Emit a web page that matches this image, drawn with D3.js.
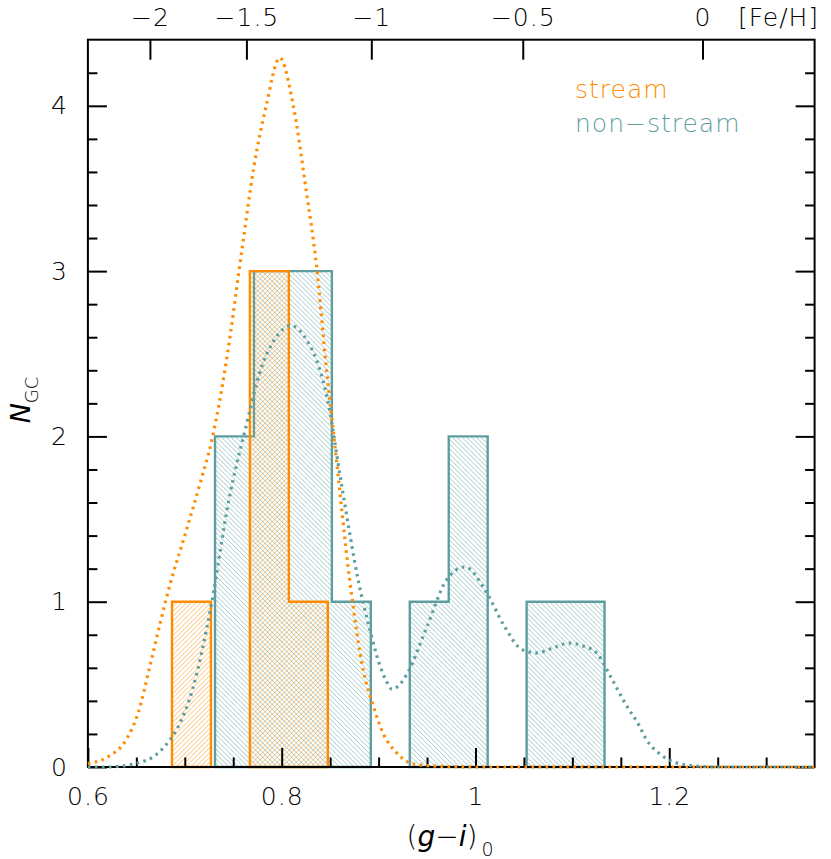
<!DOCTYPE html>
<html><head><meta charset="utf-8">
<script src="https://cdn.jsdelivr.net/npm/d3@7"></script>
<style>
body{margin:0;background:#fff;}
text{font-family:"DejaVu Sans",sans-serif;font-weight:200;}
</style></head>
<body><svg id="c" width="831" height="859"></svg>
<script>
// ---------- data ----------
const binWidth = 0.0402;
const streamBinLo = [0.6868, 0.7270, 0.7672, 0.8074];
const streamCounts = [1, 0, 3, 1];
const nonStreamBinLo = [0.7312, 0.7714, 0.8116, 0.8518, 0.8920, 0.9322, 0.9724, 1.0126, 1.0528, 1.0930];
const nonStreamCounts = [2, 3, 3, 1, 0, 1, 2, 0, 1, 1];

const streamKdeX = [0.600,0.620,0.640,0.652,0.664,0.675,0.685,0.700,0.715,0.728,0.743,0.759,0.771,0.784,0.798,0.812,0.825,0.836,0.846,0.855,0.870,0.884,0.8945,0.905,0.918,0.935,0.960,1.000,1.350];
const streamKdeY = [0.02,0.06,0.17,0.33,0.61,0.88,1.11,1.40,1.70,1.98,2.46,3.13,3.62,4.00,4.29,4.00,3.50,3.03,2.42,1.94,1.14,0.59,0.37,0.20,0.09,0.02,0.005,0.0,0.0];

const nonStreamKdeX = [0.600,0.620,0.640,0.655,0.667,0.680,0.692,0.708,0.727,0.745,0.764,0.777,0.792,0.810,0.826,0.836,0.846,0.862,0.879,0.891,0.901,0.908,0.914,0.922,0.930,0.950,0.970,0.989,1.011,1.030,1.048,1.063,1.080,1.097,1.112,1.125,1.141,1.155,1.169,1.176,1.190,1.205,1.221,1.250,1.350];
const nonStreamKdeY = [0.0,0.0,0.01,0.03,0.06,0.13,0.23,0.47,0.97,1.60,2.08,2.38,2.58,2.67,2.58,2.46,2.26,1.70,1.13,0.83,0.62,0.52,0.47,0.50,0.57,0.85,1.13,1.21,1.06,0.85,0.71,0.69,0.72,0.75,0.73,0.69,0.53,0.38,0.25,0.17,0.08,0.03,0.01,0.0,0.0];

const xMajorTicks = [0.6, 0.8, 1.0, 1.2];
const xMinorTicks = [0.65,0.7,0.75,0.85,0.9,0.95,1.05,1.1,1.15,1.25,1.3];
const yMajorTicks = [0,1,2,3,4];
const yMinorTicks = [0.2,0.4,0.6,0.8,1.2,1.4,1.6,1.8,2.2,2.4,2.6,2.8,3.2,3.4,3.6,3.8,4.2];
const fehLabels = ["−2","−1.5","−1","−0.5","0"];
const fehTickColour = [0.664, 0.7636, 0.8925, 1.0488, 1.2343];

const orange = "#ff8c00", teal = "#5f9ea0";

// ---------- scales ----------
const svg = d3.select("#c");
const x = d3.scaleLinear().domain([0.6, 1.35]).range([87.9, 814.6]);
const y = d3.scaleLinear().domain([0, 4.4]).range([767, 39.7]);

// ---------- patterns ----------
const defs = svg.append("defs");
function hatch(id, colour, angle){
  const p = defs.append("pattern").attr("id", id).attr("patternUnits","userSpaceOnUse")
    .attr("width", 3.4).attr("height", 3.4).attr("patternTransform", `rotate(${angle})`);
  p.append("line").attr("x1",0).attr("y1",0).attr("x2",0).attr("y2",3.4)
    .attr("stroke", colour).attr("stroke-width", 1.1).attr("stroke-opacity", 0.75);
}
hatch("hT", teal, -45);
hatch("hO", orange, 45);

// ---------- histogram step outlines ----------
function stepPaths(lo, counts){
  const paths = [];
  let cur = null;
  counts.forEach((n, i) => {
    if (n > 0){
      if (!cur){ cur = `M${x(lo[i])},${y(0)}`; }
      cur += `V${y(n)}H${x(lo[i] + binWidth)}`;
    } else if (cur){
      cur += `V${y(0)}Z`; paths.push(cur); cur = null;
    }
  });
  if (cur){ cur += `V${y(0)}Z`; paths.push(cur); }
  return paths;
}
svg.append("g").selectAll("path").data(stepPaths(nonStreamBinLo, nonStreamCounts)).join("path")
  .attr("d", d => d).attr("fill", "url(#hT)").attr("stroke", teal).attr("stroke-width", 2.4);
svg.append("g").selectAll("path").data(stepPaths(streamBinLo, streamCounts)).join("path")
  .attr("d", d => d).attr("fill", "url(#hO)").attr("stroke", orange).attr("stroke-width", 2.4);

// ---------- frame & axes ----------
svg.append("rect").attr("x", x(0.6)).attr("y", y(4.4)).attr("width", x(1.35)-x(0.6)).attr("height", y(0)-y(4.4))
  .attr("fill","none").attr("stroke","#000").attr("stroke-width",2);

function styleAxis(g){
  g.select(".domain").remove();
  g.selectAll(".tick line").attr("stroke","#000").attr("stroke-width",2);
  g.selectAll("text").attr("font-size", 25).attr("fill","#000").attr("font-family","DejaVu Sans").attr("letter-spacing", 1);
}
const fmt = d3.format("~g");
// bottom
svg.append("g").attr("transform",`translate(0,${y(0)})`)
  .call(d3.axisBottom(x).tickValues(xMajorTicks).tickSize(-19).tickPadding(20).tickFormat(fmt)).call(styleAxis);
svg.append("g").attr("transform",`translate(0,${y(0)})`)
  .call(d3.axisBottom(x).tickValues(xMinorTicks).tickSize(-9.5).tickFormat("")).call(styleAxis);
// top [Fe/H]
svg.append("g").attr("transform",`translate(0,${y(4.4)})`)
  .call(d3.axisTop(x).tickValues(fehTickColour).tickSize(-20).tickPadding(14).tickFormat((d,i)=>fehLabels[i])).call(styleAxis);
// left
svg.append("g").attr("transform",`translate(${x(0.6)},0)`)
  .call(d3.axisLeft(y).tickValues(yMajorTicks).tickSize(-19).tickPadding(20).tickFormat(fmt)).call(styleAxis);
svg.append("g").attr("transform",`translate(${x(0.6)},0)`)
  .call(d3.axisLeft(y).tickValues(yMinorTicks).tickSize(-9.5).tickFormat("")).call(styleAxis);
// right
svg.append("g").attr("transform",`translate(${x(1.35)},0)`)
  .call(d3.axisRight(y).tickValues(yMajorTicks).tickSize(-19).tickFormat("")).call(styleAxis);
svg.append("g").attr("transform",`translate(${x(1.35)},0)`)
  .call(d3.axisRight(y).tickValues(yMinorTicks).tickSize(-9.5).tickFormat("")).call(styleAxis);

// ---------- KDE curves ----------
const line = d3.line().x(d => x(d[0])).y(d => y(d[1])).curve(d3.curveMonotoneX);
svg.append("path").datum(nonStreamKdeX.map((v,i)=>[v, nonStreamKdeY[i]]))
  .attr("d", line).attr("fill","none").attr("stroke", teal).attr("stroke-width", 3.2)
  .attr("stroke-dasharray","2.6,4.4");
svg.append("path").datum(streamKdeX.map((v,i)=>[v, streamKdeY[i]]))
  .attr("d", line).attr("fill","none").attr("stroke", orange).attr("stroke-width", 3.2)
  .attr("stroke-dasharray","2.6,4.4");

// ---------- labels ----------
svg.append("text").attr("x", 738).attr("y", 26).attr("font-size", 25).attr("letter-spacing",1).text("[Fe/H]");
svg.append("text").attr("x", 575).attr("y", 98).attr("font-size", 25).attr("letter-spacing",1).attr("fill", orange).text("stream");
svg.append("text").attr("x", 575).attr("y", 132).attr("font-size", 25).attr("letter-spacing",1).attr("fill", teal).text("non−stream");

const xt = svg.append("text").attr("x", 450).attr("y", 846).attr("text-anchor","middle").attr("font-size", 28);
xt.append("tspan").text("(");
xt.append("tspan").attr("font-style","italic").text("g");
xt.append("tspan").text("−");
xt.append("tspan").attr("font-style","italic").text("i");
xt.append("tspan").text(")");
xt.append("tspan").attr("font-size", 19).attr("dy", 10).attr("dx", 4).text("0");

const yt = svg.append("text").attr("transform","translate(30,400) rotate(-90)").attr("text-anchor","middle").attr("font-size", 27);
yt.append("tspan").attr("font-style","italic").text("N");
yt.append("tspan").attr("font-size", 18).attr("dy", 8).text("GC");
</script></body></html>
